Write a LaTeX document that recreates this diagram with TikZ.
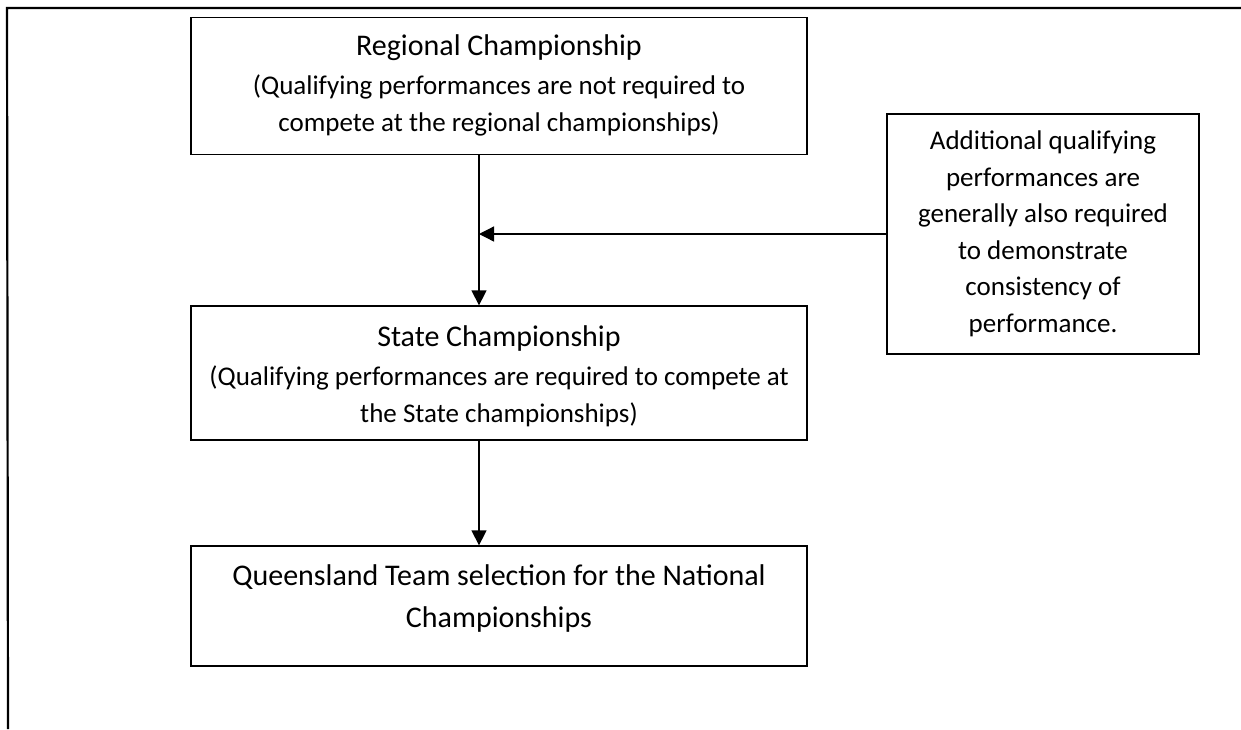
\documentclass[tikz,border=0pt]{standalone}
\usepackage{fontspec}
\setmainfont{Carlito}
\usetikzlibrary{arrows.meta}
\begin{document}
\begin{tikzpicture}[x=1pt,y=-1pt,
  box/.style={draw=black,line width=1.3pt,minimum width=616pt,inner sep=0pt},
  sidebox/.style={draw=black,line width=1.3pt,minimum width=312pt,minimum height=240pt,align=center,inner sep=0pt},
  conn/.style={line width=1.3pt,-{Triangle[length=15pt,width=15pt]}},
  frame/.style={line width=2.2pt},
  title/.style={font=\fontsize{30}{36}\selectfont,anchor=base,inner sep=0pt},
  body/.style={font=\fontsize{27}{33}\selectfont,anchor=base,inner sep=0pt},
  sidetext/.style={font=\fontsize{27}{36.5}\selectfont}]
\useasboundingbox (0,0) rectangle (1241,729);
\coordinate (ftl) at (7,8);
\coordinate (ftr) at (1241,8);
\coordinate (fbl) at (8,729);
\draw[frame] (ftr) -- (ftl) -- (fbl);
% Regional box
\node[box,minimum height=137pt] (reg) at (499,86) {};
\node[title] (regt) at (499,55) {Regional Championship};
\node[body] (reg1) at (499,94) {(Qualifying performances are not required to};
\node[body] (reg2) at (499,131) {compete at the regional championships)};
% State box
\node[box,minimum height=134pt] (state) at (499,373) {};
\node[title] (statet) at (499,346) {State Championship};
\node[body] (state1) at (499,385) {(Qualifying performances are required to compete at};
\node[body] (state2) at (499,422) {the State championships)};
% Queensland box
\node[box,minimum height=120pt] (qld) at (499,606) {};
\node[title] (qld1) at (499,585) {Queensland Team selection for the National};
\node[title] (qld2) at (499,627) {Championships};
% side box
\node[sidebox,sidetext] (side) at (1043,234) {Additional qualifying\\performances are\\generally also required\\to demonstrate\\consistency of\\performance.};
\coordinate (join) at (479,234);
\draw[conn] (reg.south -| join) -- (state.north -| join);
\draw[conn] (side.west |- join) -- (join);
\draw[conn] (state.south -| join) -- (qld.north -| join);
\end{tikzpicture}
\end{document}
